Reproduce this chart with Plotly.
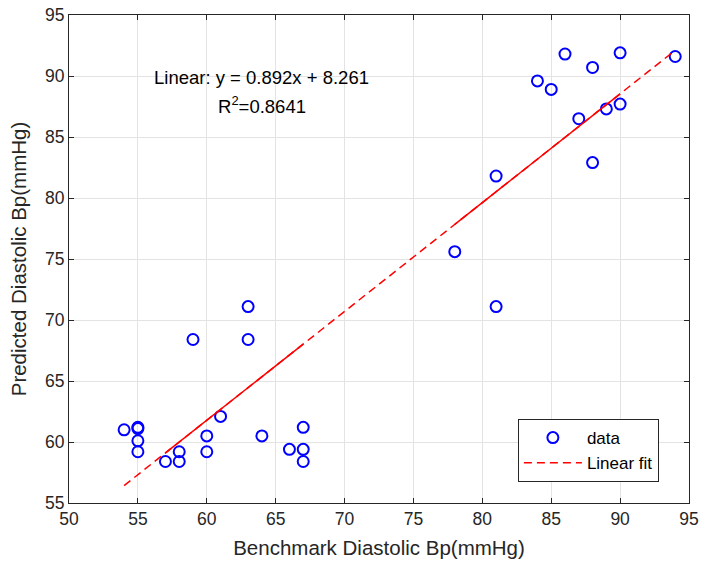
import plotly.graph_objects as go
import numpy as np

# Data
benchmark_bp = [54, 55, 55, 55, 55, 57, 58, 58, 59, 60, 60, 61, 63, 63, 64, 66,
                67, 67, 67, 78, 81, 81, 84, 85, 86, 87, 88, 88, 89, 90, 90, 94]
predicted_bp = [61.0, 61.2, 61.1, 60.1, 59.2, 58.4, 59.2, 58.4, 68.4, 60.5, 59.2, 62.1,
                71.1, 68.4, 60.5, 59.4, 61.2, 59.4, 58.4, 75.6, 81.8, 71.1, 89.6, 88.9,
                91.8, 86.5, 90.7, 82.9, 87.3, 91.9, 87.7, 91.6]

fit_slope = 0.892
fit_intercept = 8.261
r_squared = 0.8641
# x ranges where the fitted line is drawn over repeatedly (looks solid)
fit_solid_ranges = [(57, 67), (78, 90)]

x_ticks = [50, 55, 60, 65, 70, 75, 80, 85, 90, 95]
y_ticks = [55, 60, 65, 70, 75, 80, 85, 90, 95]

FONT = "Liberation Sans, Arial, Helvetica, sans-serif"
TXT = "#262626"

fig = go.Figure()

fit_x = np.array([min(benchmark_bp), max(benchmark_bp)], dtype=float)
fig.add_trace(go.Scatter(
    x=benchmark_bp, y=predicted_bp, mode="markers", name="data",
    marker=dict(symbol="circle-open", size=11, color="#0000ff",
                line=dict(width=2, color="#0000ff")),
))
fig.add_trace(go.Scatter(
    x=fit_x, y=fit_slope * fit_x + fit_intercept, mode="lines", name="Linear fit",
    line=dict(color="#ff0000", width=1.5, dash="8px,5px"),
))
for a, b in fit_solid_ranges:
    sx = np.array([a, b], dtype=float)
    fig.add_trace(go.Scatter(
        x=sx, y=fit_slope * sx + fit_intercept, mode="lines", showlegend=False,
        hoverinfo="skip", line=dict(color="#ff0000", width=1.5),
    ))

fig.add_annotation(x=64, y=89.85, xref="x", yref="y", showarrow=False,
                   text=f"Linear: y = {fit_slope:.3f}x + {fit_intercept:.3f}",
                   font=dict(family=FONT, size=18.5, color="black"))
fig.add_annotation(x=64, y=87.6, xref="x", yref="y", showarrow=False,
                   text=f"R<sup>2</sup>={r_squared:.4f}",
                   font=dict(family=FONT, size=18.5, color="black"))

axis_common = dict(
    showgrid=True, gridcolor="#e3e3e3", gridwidth=1,
    showline=True, linecolor=TXT, linewidth=1, mirror="ticks",
    ticks="inside", ticklen=5, tickcolor=TXT, tickwidth=1,
    tickfont=dict(family=FONT, size=17.5, color=TXT),
    zeroline=False, automargin=False,
)

fig.update_layout(
    width=701, height=567,
    margin=dict(l=69, r=12, t=15, b=64, autoexpand=False),
    paper_bgcolor="white", plot_bgcolor="white",
    font=dict(family=FONT, color=TXT),
    xaxis=dict(range=[50, 95], tickvals=x_ticks,
               title=dict(text="Benchmark Diastolic Bp(mmHg)",
                          font=dict(family=FONT, size=20.5, color=TXT), standoff=12),
               **axis_common),
    yaxis=dict(range=[55, 95], tickvals=y_ticks,
               title=dict(text="Predicted Diastolic Bp(mmHg)",
                          font=dict(family=FONT, size=20.5, color=TXT), standoff=12),
               **axis_common),
    legend=dict(x=0.724, y=0.172, xanchor="left", yanchor="top",
                itemwidth=58,
                bgcolor="white", bordercolor=TXT, borderwidth=1,
                font=dict(family=FONT, size=17, color="black")),
    showlegend=True,
)

fig.write_html("out.html", config={"displayModeBar": False},
               post_script="document.body.style.margin='0';document.body.style.padding='0';")
